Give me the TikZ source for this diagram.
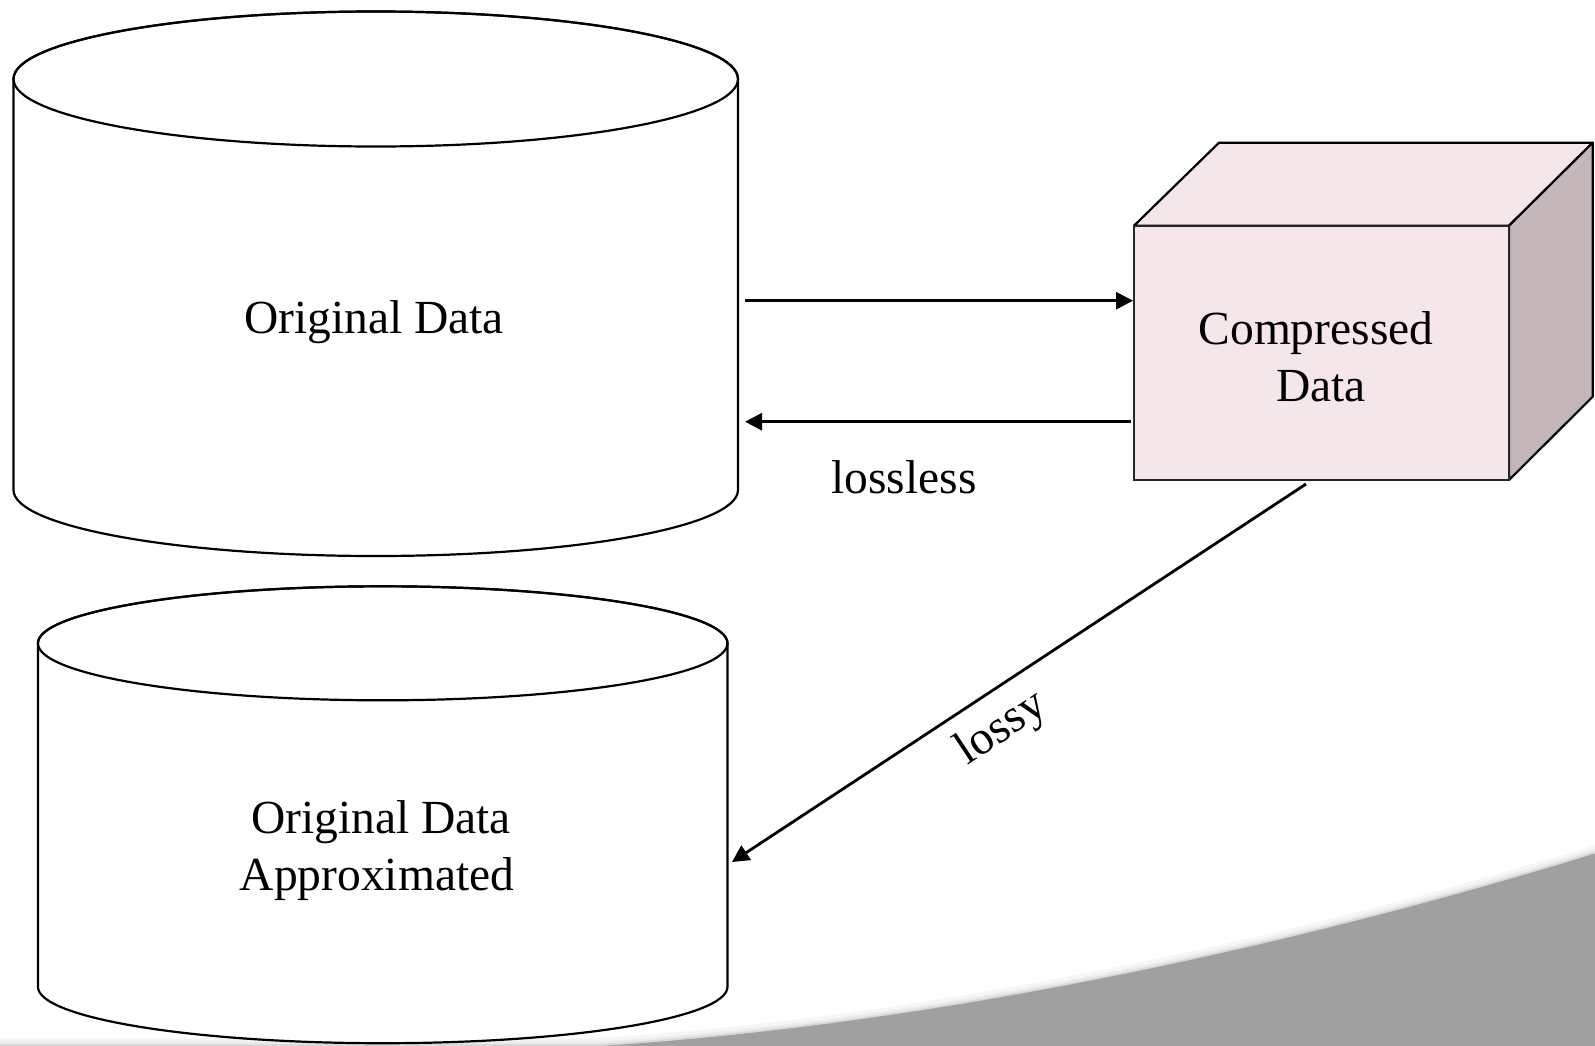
\documentclass[tikz,border=0pt]{standalone}
\usepackage{fontspec}
\setmainfont{Liberation Serif}
\usetikzlibrary{arrows.meta}
\definecolor{cubefront}{RGB}{245,230,233}
\definecolor{cubeside}{RGB}{196,182,185}
\definecolor{swoosh}{RGB}{160,160,160}
\begin{document}
\begin{tikzpicture}[x=1pt,y=-1pt,
  outline/.style={draw=black, line width=2.2pt},
  conn/.style={line width=2.8pt, -{Triangle[length=17pt,width=17pt]}},
  lbl/.style={font=\fontsize{47.5}{57}\selectfont, inner sep=0pt, align=center},
]
\useasboundingbox (0,0) rectangle (1595,1045);
\fill[white] (0,0) rectangle (1595,1045);
% swoosh with soft shadow
\draw[line width=16pt, gray!7] (0,1046) -- (600,1046) .. controls (900,1027) and (1250,960) .. (1600,852);
\draw[line width=9pt, gray!16] (0,1046) -- (600,1046) .. controls (900,1027) and (1250,960) .. (1600,852);
\draw[line width=4pt, gray!30] (0,1046) -- (600,1046) .. controls (900,1027) and (1250,960) .. (1600,852);
\fill[swoosh] (600,1046) .. controls (900,1027) and (1250,960) .. (1600,852) -- (1600,1050) -- (600,1050) -- cycle;
% top cylinder
\path[outline, fill=white] (13.5,79) -- (13.5,490) arc[start angle=180, end angle=0, x radius=362.25, y radius=66] -- (738,79) arc[start angle=0, end angle=-180, x radius=362.25, y radius=67.5] -- cycle;
\draw[outline] (375.75,79) ellipse [x radius=362.25, y radius=67.5];
% bottom cylinder
\path[outline, fill=white] (37.9,643.3) -- (37.9,986.7) arc[start angle=180, end angle=0, x radius=344.8, y radius=56.5] -- (727.5,643.3) arc[start angle=0, end angle=-180, x radius=344.8, y radius=57] -- cycle;
\draw[outline] (382.7,643.3) ellipse [x radius=344.8, y radius=57];
% cube
\fill[cubefront, draw=black, line width=2.2pt, line join=round] (1134,225.7) -- (1219,142.7) -- (1592.7,142.7) -- (1509,225.7) -- cycle;
\fill[cubeside, draw=black, line width=2.2pt, line join=round] (1509,225.7) -- (1592.7,142.7) -- (1592.7,396.7) -- (1509,480) -- cycle;
\node[draw=black!85, line width=2pt, fill=cubefront, inner sep=0pt, minimum width=375pt, minimum height=254.3pt] (cd) at (1321.5,352.85) {};
\node[lbl] (cdt) at (1316,357) {Compressed\\\hspace*{10pt}Data};
% texts
\node[lbl, anchor=base] (od) at (374,333.5) {Original Data};
\node[lbl] (oda) at (377,851) {\hspace*{8pt}Original Data\\Approximated};
% connectors
\coordinate (c1s) at (745,300.7);
\coordinate (c2s) at (1131,421.7);
\coordinate (c3s) at (1306,484);
\coordinate (c3e) at (732,862);
\draw[conn] (c1s) -- (c1s -| cd.west);
\draw[conn] (c2s) -- (c2s -| c1s);
\draw[conn] (c3s) -- (c3e);
\node[lbl, anchor=base] (ll) at (904,493) {lossless};
\node[lbl, rotate=33.4] (lossy) at (1002,729) {lossy};
\end{tikzpicture}
\end{document}
